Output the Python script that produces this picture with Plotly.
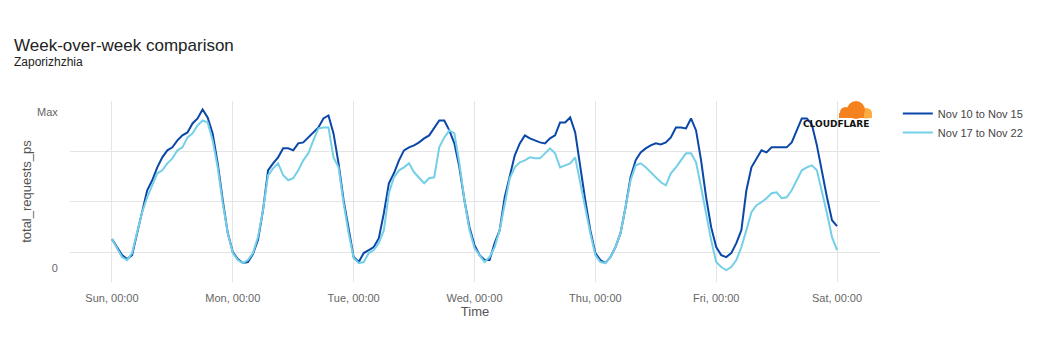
import plotly.graph_objects as go
import pandas as pd

# ---- data (normalised request rate, 0 .. Max=156), hourly, Sun 00:00 -> Sat 00:00 ----
series_names = ["Nov 10 to Nov 15", "Nov 17 to Nov 22"]
y_tick_labels = ["0", "Max"]
MAX_VALUE = 156

sun1 = [29, 21, 13, 9, 13, 35, 55, 78, 88, 101, 111, 118, 121, 128, 133, 136, 145, 150, 159, 151, 135, 105, 68, 35]
mon1 = [16, 9, 5, 6, 14, 28, 58, 98, 105, 111, 120, 120, 118, 125, 126, 131, 135, 141, 150, 153, 135, 105, 68, 38]
tue1 = [11, 6, 15, 18, 21, 30, 55, 85, 95, 108, 118, 121, 123, 126, 130, 133, 140, 148, 148, 138, 125, 101, 68, 41]
wed1 = [23, 13, 8, 8, 25, 38, 71, 91, 113, 125, 133, 130, 128, 126, 125, 130, 133, 146, 146, 151, 136, 101, 68, 38]
thu1 = [15, 8, 5, 11, 21, 35, 61, 91, 108, 116, 120, 123, 125, 124, 126, 131, 141, 141, 140, 150, 138, 108, 71, 41]
fri1 = [21, 13, 11, 15, 25, 38, 78, 101, 109, 118, 116, 121, 121, 121, 121, 126, 138, 150, 150, 144, 123, 95, 71, 48]
end1 = [42]

sun2 = [29, 20, 11, 8, 15, 36, 56, 71, 83, 95, 98, 105, 110, 118, 121, 131, 135, 143, 148, 146, 128, 101, 65, 35]
mon2 = [15, 8, 5, 8, 15, 31, 58, 93, 100, 105, 93, 88, 90, 98, 108, 115, 128, 140, 141, 141, 111, 101, 65, 35]
tue2 = [10, 5, 6, 15, 18, 25, 38, 75, 91, 98, 101, 105, 96, 91, 85, 90, 91, 121, 131, 138, 135, 105, 68, 38]
wed2 = [20, 13, 6, 11, 21, 38, 65, 90, 101, 106, 108, 111, 110, 110, 115, 120, 115, 101, 103, 105, 111, 85, 58, 35]
thu2 = [13, 6, 5, 11, 21, 35, 61, 88, 103, 105, 101, 96, 90, 86, 83, 95, 101, 108, 115, 115, 106, 81, 55, 28]
fri2 = [6, 1, -2, 1, 8, 21, 38, 56, 63, 66, 70, 75, 76, 70, 71, 78, 88, 98, 101, 103, 98, 78, 55, 31]
end2 = [18]

week1 = sun1 + mon1 + tue1 + wed1 + thu1 + fri1 + end1
week2 = sun2 + mon2 + tue2 + wed2 + thu2 + fri2 + end2
times = pd.date_range("2024-11-10 00:00", periods=len(week1), freq="h")

colors = ["#0b47a8", "#74cfe7"]
FONT = "Liberation Sans, Arial, Helvetica, sans-serif"

fig = go.Figure()
for name, vals, c in zip(series_names, [week1, week2], colors):
    fig.add_trace(go.Scatter(x=times, y=vals, mode="lines", name=name,
                             line=dict(color=c, width=2), yaxis="y"))
# invisible trace to activate the label axis
fig.add_trace(go.Scatter(x=[times[0]], y=[0], mode="markers", marker=dict(opacity=0),
                         showlegend=False, hoverinfo="skip", yaxis="y2"))

y_range = [-14, 167.5]
x_range = ["2024-11-09 15:40", "2024-11-16 08:32"]

# Cloudflare-style logo built from simple shapes (pixel-sized, anchored in paper coords)
LOGO_X, LOGO_Y = 0.9691, 0.9061
def blob(x0, x1, y0, y1, color, kind="circle"):
    return dict(type=kind, xref="paper", yref="paper", xsizemode="pixel", ysizemode="pixel",
                xanchor=LOGO_X, yanchor=LOGO_Y, x0=x0, x1=x1, y0=y0, y1=y1,
                fillcolor=color, line=dict(width=0), layer="above")
logo_shapes = [
    blob(6, 17, -0.5, 10, "#fbad41"),
    blob(7, 17, 0, 4, "#fbad41", "rect"),
    blob(-8, 10, -1, 17, "#f6821f"),
    blob(-15, -4, 0, 11, "#f6821f"),
    blob(-16, 9, 0, 5, "#f6821f", "rect"),
]

fig.update_layout(
    width=1040, height=360,
    margin=dict(l=62, r=168, t=93, b=86),
    paper_bgcolor="white", plot_bgcolor="white",
    font=dict(family=FONT, color="#555", size=11),
    showlegend=True,
    legend=dict(x=1.022, y=1.011, xanchor="left", yanchor="top",
                font=dict(size=11, color="#444"), itemwidth=30,
                tracegroupgap=0, bgcolor="rgba(0,0,0,0)"),
    xaxis=dict(type="date", range=x_range, dtick=86400000, tick0="2024-11-10",
               tickformat="%a, %H:%M", showgrid=True, gridcolor="#e4e4e4",
               zeroline=False, showline=False, ticks="outside", ticklen=6,
               tickcolor="rgba(0,0,0,0)", tickfont=dict(size=11, color="#666"),
               title=dict(text="Time", font=dict(size=13, color="#555"), standoff=2)),
    yaxis=dict(range=y_range, tickvals=[16, 66.5, 117, 167], showticklabels=False,
               showgrid=True, gridcolor="#e4e4e4", zeroline=False, showline=False,
               ticks=""),
    yaxis2=dict(range=y_range, overlaying="y", side="left", tickvals=[0, MAX_VALUE],
                ticktext=y_tick_labels, showgrid=False, zeroline=False, showline=False,
                ticks="outside", ticklen=9, tickcolor="rgba(0,0,0,0)",
                tickfont=dict(size=11, color="#666"),
                title=dict(text="total_requests_ps", font=dict(size=13, color="#555"), standoff=2)),
    shapes=logo_shapes,
    annotations=[
        dict(text="Week-over-week comparison", xref="paper", yref="paper",
             x=-0.0716, y=1.309, xanchor="left", yanchor="middle", showarrow=False,
             font=dict(size=17, color="#222")),
        dict(text="Zaporizhzhia", xref="paper", yref="paper",
             x=-0.0716, y=1.2155, xanchor="left", yanchor="middle", showarrow=False,
             font=dict(size=12, color="#222")),
        dict(text="<b>CLOUDFLARE</b>", xref="paper", yref="paper", x=0.9457, y=0.873,
             xanchor="center", yanchor="middle", showarrow=False,
             font=dict(size=9, color="#111", family="DejaVu Sans")),
    ],
)

fig.write_html("out.html")
